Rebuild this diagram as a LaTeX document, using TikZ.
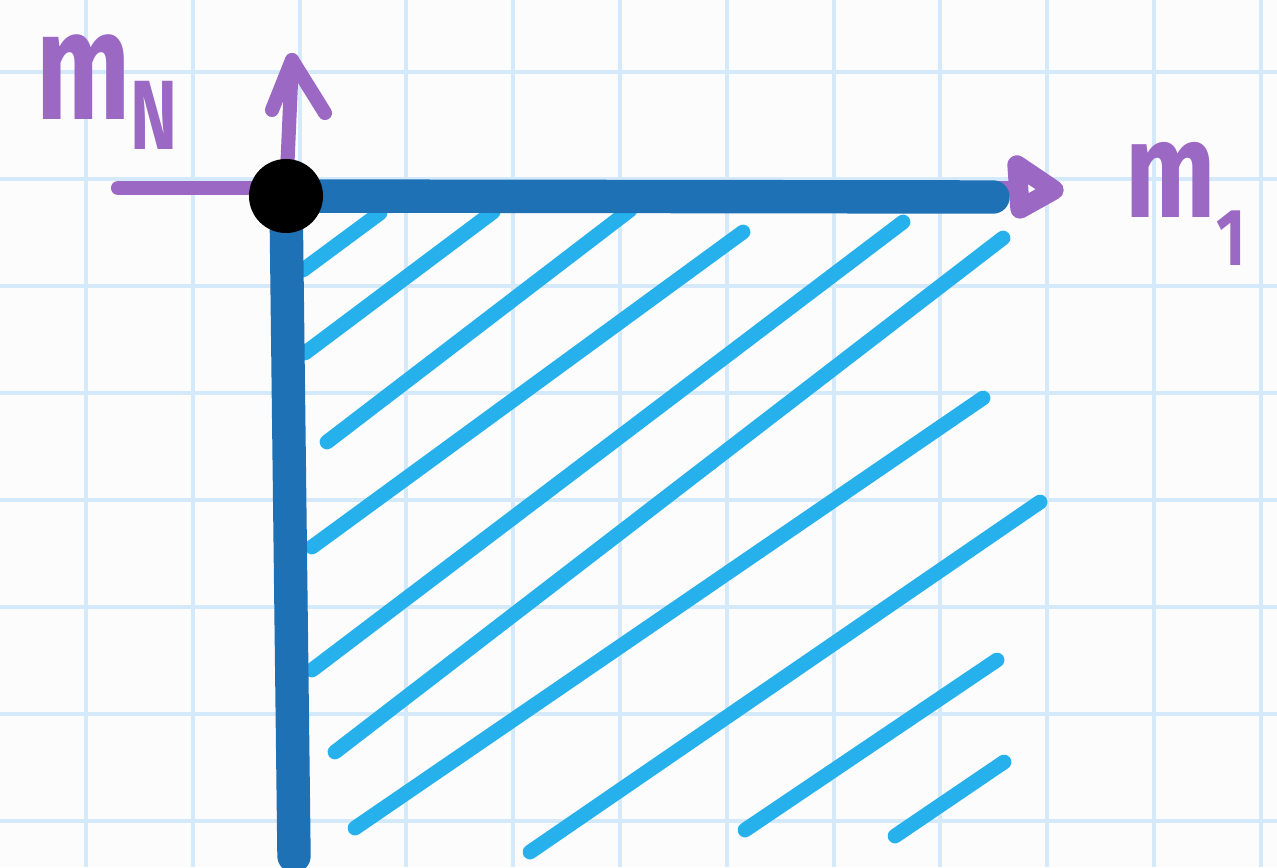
\documentclass[tikz,border=0pt]{standalone}
\usepackage{fontspec}
\usepackage{graphicx}
\newfontfamily\handfont{Fira Sans}
\usetikzlibrary{positioning}
\definecolor{paper}{RGB}{252,252,253}
\definecolor{gridblue}{RGB}{212,234,250}
\definecolor{axisblue}{RGB}{31,113,181}
\definecolor{hatchblue}{RGB}{39,177,236}
\definecolor{penpurple}{RGB}{155,104,196}
\tikzset{
  gridline/.style={draw=gridblue, line width=1.1pt},
  hatch/.style={draw=hatchblue, line width=4.2pt, line cap=round},
  axis/.style={draw=axisblue, line width=9.5pt, line cap=round},
  pen/.style={draw=penpurple, line width=4pt, line cap=round, line join=round},
  dot/.style={circle, fill=black, minimum size=0.74cm, inner sep=0pt},
  lbl/.style={text=penpurple, inner sep=0pt, font=\handfont\bfseries}
}

\begin{document}
\begin{tikzpicture}[x=0.01cm, y=-0.01cm]
\useasboundingbox[fill=paper] (0,0) rectangle (1277,867);

% squared paper
\foreach \k in {0,...,11}
  \draw[gridline] ({86+106.8*\k},0) -- ({86+106.8*\k},867);
\foreach \k in {0,...,7}
  \draw[gridline] (0,{72+107*\k}) -- (1277,{72+107*\k});

% hatching of the quadrant
\foreach \xa/\ya/\xb/\yb in {303/270/380/213, 305/353/493/212, 327/442/630/210,
    312/547/743/232, 312/670/903/222, 335/752/1003/238, 355/828/983/398,
    530/852/1040/502, 745/830/997/660, 895/836/1004/762}
  \draw[hatch] (\xa,\ya) -- (\xb,\yb);

\coordinate (O) at (286,196);
\coordinate (xtail) at (118,188);
\coordinate (xtip) at (1013,188);
\coordinate (ytip) at (292,60);
\coordinate (xend) at (993,197);
\coordinate (yend) at (294,856);

% purple axes
\draw[pen] (xtail) -- (xtip);
\draw[pen, line width=5.5pt] (1017,165) -- (1054,190) -- (1020,209) -- cycle;
\draw[pen] (O) -- (ytip);
\draw[pen] (272,110) -- (ytip) -- (325,113);

% boundary of the cone
\draw[axis] (O) -- (xend);
\draw[axis] (O) -- (yend);
\node[dot] (origin) at (O) {};

% labels
\node[lbl, anchor=base west] (mN) at (36,120)
  {\fontsize{44}{44}\selectfont\scalebox{0.72}[1]{m\raisebox{-8.5pt}{\fontsize{28}{28}\selectfont N}}};
\node[lbl, anchor=base west] (m1) at (1125,217)
  {\fontsize{39}{39}\selectfont\scalebox{0.78}[1]{m\raisebox{-13.7pt}{\fontsize{23}{23}\selectfont 1}}};
\end{tikzpicture}
\end{document}
